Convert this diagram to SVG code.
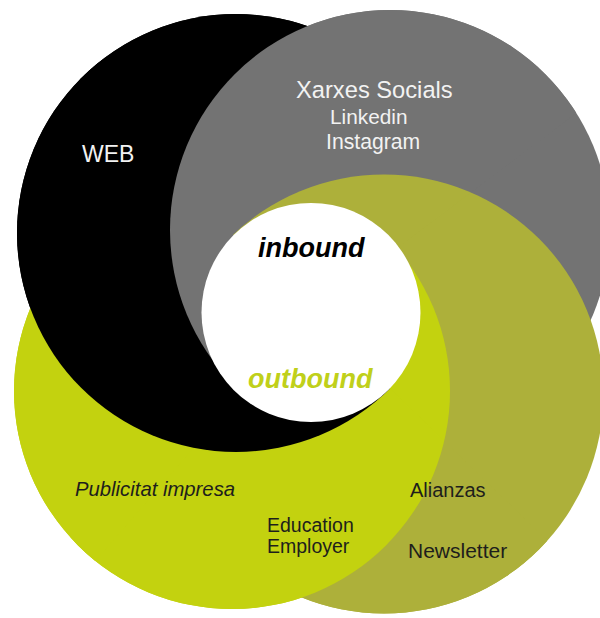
<svg xmlns="http://www.w3.org/2000/svg" xmlns:xlink="http://www.w3.org/1999/xlink" width="600" height="618" viewBox="0 0 600 618">
  <style>
    .lbl { font-family: "Liberation Sans", Arial, sans-serif; }
    .light { fill: #f2f2f2; }
    .dark { fill: #1e1e1c; }
    .big { font-weight: bold; font-style: italic; font-size: 27px; }
    .mk { fill: #ffffff; }
  </style>
  <defs>
    <circle id="c-web" cx="236" cy="233" r="219" fill="#000000"/>
    <circle id="c-social" cx="390" cy="230" r="220" fill="#737373"/>
    <circle id="c-olive" cx="384" cy="394" r="219.5" fill="#adb03a"/>
    <circle id="c-yellow" cx="232" cy="391" r="218" fill="#c3d20f"/>
    <mask id="s1" maskUnits="userSpaceOnUse" x="-1000" y="-1000" width="3000" height="3000"><polygon class="mk" points="311,312.5 1030,1007 302,1312 -420,994"/></mask>
    <mask id="s2" maskUnits="userSpaceOnUse" x="-1000" y="-1000" width="3000" height="3000"><polygon class="mk" points="311,312.5 -345,1067 -689,295 -318,-465"/></mask>
    <mask id="s3" maskUnits="userSpaceOnUse" x="-1000" y="-1000" width="3000" height="3000"><polygon class="mk" points="311,312.5 -396,-395 381,-685 1110,-289"/></mask>
  </defs>

  <g id="circles">
    <g id="base">
      <use xlink:href="#c-web"/>
      <use xlink:href="#c-social"/>
      <use xlink:href="#c-olive"/>
      <use xlink:href="#c-yellow"/>
    </g>
    <g id="sector-bottom" mask="url(#s1)">
      <use xlink:href="#c-social"/>
      <use xlink:href="#c-olive"/>
      <use xlink:href="#c-yellow"/>
      <use xlink:href="#c-web"/>
    </g>
    <g id="sector-left" mask="url(#s2)">
      <use xlink:href="#c-olive"/>
      <use xlink:href="#c-yellow"/>
      <use xlink:href="#c-web"/>
      <use xlink:href="#c-social"/>
    </g>
    <g id="sector-top" mask="url(#s3)">
      <use xlink:href="#c-yellow"/>
      <use xlink:href="#c-web"/>
      <use xlink:href="#c-social"/>
      <use xlink:href="#c-olive"/>
    </g>
  </g>

  <g id="node-center">
    <circle cx="311" cy="312.5" r="109.5" fill="#ffffff"/>
    <text class="lbl big" x="258" y="257" fill="#000000">inbound</text>
    <text class="lbl big" x="248" y="388" fill="#c0d01a">outbound</text>
  </g>

  <g id="node-web">
    <text class="lbl light" x="82" y="162" font-size="23">WEB</text>
  </g>

  <g id="node-xarxes">
    <text class="lbl light" x="296" y="98" font-size="23.7">Xarxes Socials</text>
    <text class="lbl light" x="330" y="124" font-size="20.8">Linkedin</text>
    <text class="lbl light" x="326" y="149" font-size="21.2">Instagram</text>
  </g>

  <g id="node-publicitat">
    <text class="lbl dark" x="75" y="496" font-size="20.3" font-style="italic">Publicitat impresa</text>
  </g>

  <g id="node-education">
    <text class="lbl dark" x="267" y="532" font-size="19.5">Education</text>
    <text class="lbl dark" x="267" y="553" font-size="19.5">Employer</text>
  </g>

  <g id="node-alianzas">
    <text class="lbl dark" x="410" y="497" font-size="20">Alianzas</text>
    <text class="lbl dark" x="408" y="558" font-size="21">Newsletter</text>
  </g>
</svg>
